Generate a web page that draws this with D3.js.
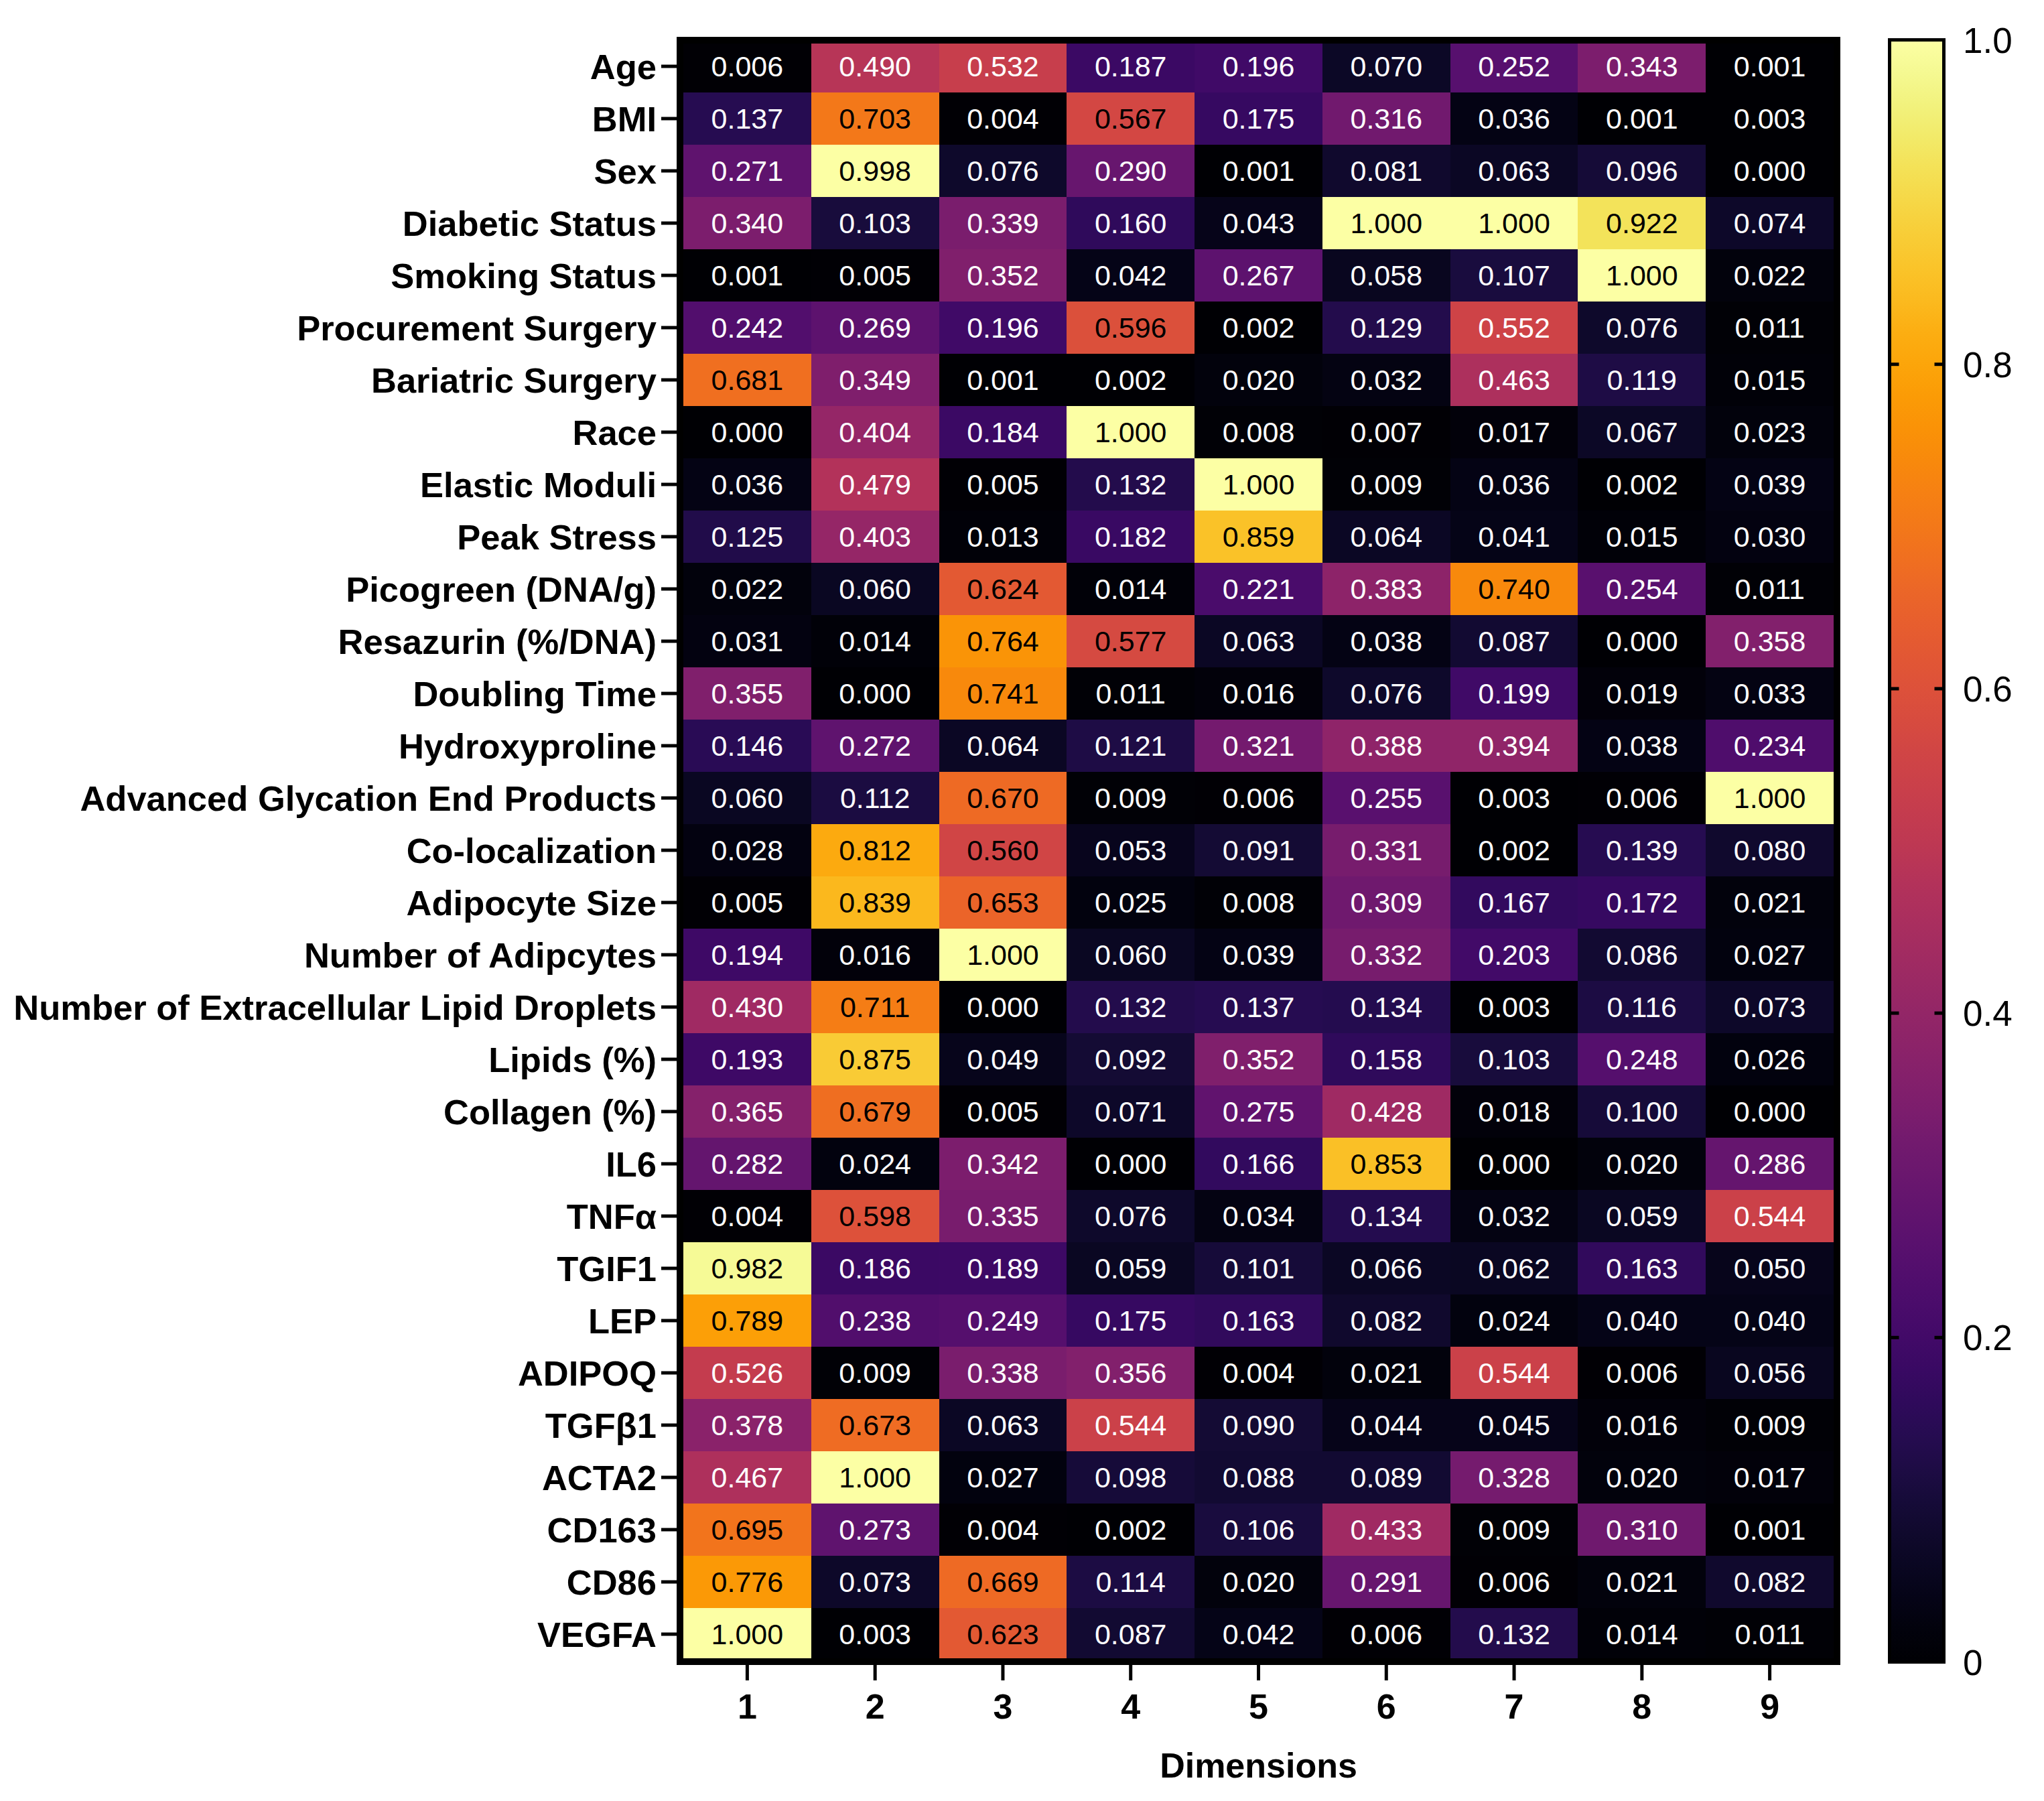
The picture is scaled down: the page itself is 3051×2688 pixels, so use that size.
<!DOCTYPE html>
<html>
<head>
<meta charset="utf-8">
<script src="https://cdn.jsdelivr.net/npm/d3@7"></script>
<style>
  html, body { margin: 0; padding: 0; background: #fff; }
  svg { display: block; font-family: "Liberation Sans", Arial, sans-serif; }
</style>
</head>
<body>
<div id="chart"></div>
<script>
// Row labels (features) and column labels (dimensions)
const features = [
  'Age', 'BMI', 'Sex', 'Diabetic Status', 'Smoking Status', 'Procurement Surgery',
  'Bariatric Surgery', 'Race', 'Elastic Moduli', 'Peak Stress', 'Picogreen (DNA/g)',
  'Resazurin (%/DNA)', 'Doubling Time', 'Hydroxyproline', 'Advanced Glycation End Products',
  'Co-localization', 'Adipocyte Size', 'Number of Adipcytes',
  'Number of Extracellular Lipid Droplets', 'Lipids (%)', 'Collagen (%)', 'IL6', 'TNFα',
  'TGIF1', 'LEP', 'ADIPOQ', 'TGFβ1', 'ACTA2', 'CD163', 'CD86', 'VEGFA'
];
const dims = ['1', '2', '3', '4', '5', '6', '7', '8', '9'];

// One row of values per feature, one value per dimension
const loadings = [
  [0.006, 0.490, 0.532, 0.187, 0.196, 0.070, 0.252, 0.343, 0.001],
  [0.137, 0.703, 0.004, 0.567, 0.175, 0.316, 0.036, 0.001, 0.003],
  [0.271, 0.998, 0.076, 0.290, 0.001, 0.081, 0.063, 0.096, 0.000],
  [0.340, 0.103, 0.339, 0.160, 0.043, 1.000, 1.000, 0.922, 0.074],
  [0.001, 0.005, 0.352, 0.042, 0.267, 0.058, 0.107, 1.000, 0.022],
  [0.242, 0.269, 0.196, 0.596, 0.002, 0.129, 0.552, 0.076, 0.011],
  [0.681, 0.349, 0.001, 0.002, 0.020, 0.032, 0.463, 0.119, 0.015],
  [0.000, 0.404, 0.184, 1.000, 0.008, 0.007, 0.017, 0.067, 0.023],
  [0.036, 0.479, 0.005, 0.132, 1.000, 0.009, 0.036, 0.002, 0.039],
  [0.125, 0.403, 0.013, 0.182, 0.859, 0.064, 0.041, 0.015, 0.030],
  [0.022, 0.060, 0.624, 0.014, 0.221, 0.383, 0.740, 0.254, 0.011],
  [0.031, 0.014, 0.764, 0.577, 0.063, 0.038, 0.087, 0.000, 0.358],
  [0.355, 0.000, 0.741, 0.011, 0.016, 0.076, 0.199, 0.019, 0.033],
  [0.146, 0.272, 0.064, 0.121, 0.321, 0.388, 0.394, 0.038, 0.234],
  [0.060, 0.112, 0.670, 0.009, 0.006, 0.255, 0.003, 0.006, 1.000],
  [0.028, 0.812, 0.560, 0.053, 0.091, 0.331, 0.002, 0.139, 0.080],
  [0.005, 0.839, 0.653, 0.025, 0.008, 0.309, 0.167, 0.172, 0.021],
  [0.194, 0.016, 1.000, 0.060, 0.039, 0.332, 0.203, 0.086, 0.027],
  [0.430, 0.711, 0.000, 0.132, 0.137, 0.134, 0.003, 0.116, 0.073],
  [0.193, 0.875, 0.049, 0.092, 0.352, 0.158, 0.103, 0.248, 0.026],
  [0.365, 0.679, 0.005, 0.071, 0.275, 0.428, 0.018, 0.100, 0.000],
  [0.282, 0.024, 0.342, 0.000, 0.166, 0.853, 0.000, 0.020, 0.286],
  [0.004, 0.598, 0.335, 0.076, 0.034, 0.134, 0.032, 0.059, 0.544],
  [0.982, 0.186, 0.189, 0.059, 0.101, 0.066, 0.062, 0.163, 0.050],
  [0.789, 0.238, 0.249, 0.175, 0.163, 0.082, 0.024, 0.040, 0.040],
  [0.526, 0.009, 0.338, 0.356, 0.004, 0.021, 0.544, 0.006, 0.056],
  [0.378, 0.673, 0.063, 0.544, 0.090, 0.044, 0.045, 0.016, 0.009],
  [0.467, 1.000, 0.027, 0.098, 0.088, 0.089, 0.328, 0.020, 0.017],
  [0.695, 0.273, 0.004, 0.002, 0.106, 0.433, 0.009, 0.310, 0.001],
  [0.776, 0.073, 0.669, 0.114, 0.020, 0.291, 0.006, 0.021, 0.082],
  [1.000, 0.003, 0.623, 0.087, 0.042, 0.006, 0.132, 0.014, 0.011]
];

const colorTicks = [0, 0.2, 0.4, 0.6, 0.8, 1.0];

(function () {
  const W = 3051, H = 2688;
  const plot = { left: 1020, right: 2737, top: 60, bottom: 2478 };

  const svg = d3.select('#chart').append('svg')
    .attr('width', W).attr('height', H)
    .attr('viewBox', `0 0 ${W} ${H}`);

  const x = d3.scaleBand().domain(dims).range([plot.left, plot.right]);
  const y = d3.scaleBand().domain(features).range([plot.top, plot.bottom]);
  const color = d3.scaleSequential(d3.interpolateInferno).domain([0, 1]);

  const cells = features.flatMap((f, i) =>
    dims.map((d, j) => ({ feature: f, dim: d, value: loadings[i][j] })));

  // heatmap cells
  svg.append('g')
    .selectAll('rect')
    .data(cells)
    .enter()
    .append('rect')
    .attr('x', d => x(d.dim)).attr('y', d => y(d.feature))
    .attr('width', x.bandwidth() + 0.5).attr('height', y.bandwidth() + 0.5)
    .attr('fill', d => color(d.value))
    .attr('shape-rendering', 'crispEdges');

  // cell values (dark text on the bright end of the scale)
  svg.append('g')
    .selectAll('text')
    .data(cells)
    .enter()
    .append('text')
    .attr('x', d => x(d.dim) + x.bandwidth() / 2)
    .attr('y', d => y(d.feature) + y.bandwidth() / 2)
    .attr('dy', '0.36em')
    .attr('text-anchor', 'middle')
    .style('font-size', '43px')
    .style('fill', d => d.value > 0.555 ? '#000' : '#fff')
    .text(d => d3.format('.3f')(d.value));

  // frame
  svg.append('rect')
    .attr('x', plot.left - 5).attr('y', plot.top)
    .attr('width', plot.right - plot.left + 10)
    .attr('height', plot.bottom - plot.top + 2)
    .attr('fill', 'none')
    .attr('stroke', '#000')
    .attr('stroke-width', 10);

  // y axis: ticks + labels
  const yAxis = svg.append('g');
  yAxis.selectAll('line')
    .data(features)
    .enter()
    .append('line')
    .attr('x1', 987).attr('x2', 1011)
    .attr('y1', d => y(d) + y.bandwidth() / 2)
    .attr('y2', d => y(d) + y.bandwidth() / 2)
    .attr('stroke', '#000').attr('stroke-width', 5);
  yAxis.selectAll('text')
    .data(features)
    .enter()
    .append('text')
    .attr('x', 980)
    .attr('y', d => y(d) + y.bandwidth() / 2)
    .attr('dy', '0.36em')
    .attr('text-anchor', 'end')
    .style('font-size', '52.5px')
    .style('font-weight', 'bold')
    .style('fill', '#000')
    .text(d => d);

  // x axis: ticks + labels
  const xAxis = svg.append('g');
  xAxis.selectAll('line')
    .data(dims)
    .enter()
    .append('line')
    .attr('x1', d => x(d) + x.bandwidth() / 2)
    .attr('x2', d => x(d) + x.bandwidth() / 2)
    .attr('y1', 2484).attr('y2', 2508)
    .attr('stroke', '#000').attr('stroke-width', 5);
  xAxis.selectAll('text')
    .data(dims)
    .enter()
    .append('text')
    .attr('x', d => x(d) + x.bandwidth() / 2)
    .attr('y', 2565)
    .attr('text-anchor', 'middle')
    .style('font-size', '52px')
    .style('font-weight', 'bold')
    .text(d => d);

  svg.append('text')
    .attr('x', (plot.left + plot.right) / 2)
    .attr('y', 2653)
    .attr('text-anchor', 'middle')
    .style('font-size', '52px')
    .style('font-weight', 'bold')
    .text('Dimensions');

  // colour bar
  const cb = { x: 2820.5, w: 81, top: 59.5, bottom: 2480.5 };
  const cy = d3.scaleLinear().domain([0, 1]).range([cb.bottom, cb.top]);

  const grad = svg.append('defs').append('linearGradient')
    .attr('id', 'inferno-grad')
    .attr('x1', 0).attr('y1', 1).attr('x2', 0).attr('y2', 0);
  grad.selectAll('stop')
    .data(d3.range(0, 1.0001, 0.02))
    .enter()
    .append('stop')
    .attr('offset', d => d)
    .attr('stop-color', d => color(d));

  svg.append('rect')
    .attr('x', cb.x).attr('y', cb.top)
    .attr('width', cb.w).attr('height', cb.bottom - cb.top)
    .attr('fill', 'url(#inferno-grad)')
    .attr('stroke', '#000').attr('stroke-width', 5);

  const inner = colorTicks.filter(t => t > 0 && t < 1);
  const cbTicks = svg.append('g');
  [[cb.x, cb.x + 14], [cb.x + cb.w - 14, cb.x + cb.w]].forEach(([a, b]) => {
    cbTicks.append('g')
      .selectAll('line')
      .data(inner)
      .enter()
      .append('line')
      .attr('x1', a).attr('x2', b)
      .attr('y1', d => cy(d)).attr('y2', d => cy(d))
      .attr('stroke', '#000').attr('stroke-width', 5);
  });

  svg.append('g')
    .selectAll('text')
    .data(colorTicks)
    .enter()
    .append('text')
    .attr('x', 2930)
    .attr('y', d => cy(d))
    .attr('dy', '0.36em')
    .style('font-size', '53px')
    .style('fill', '#000')
    .text(d => d === 0 ? '0' : d3.format('.1f')(d));
})();
</script>
</body>
</html>
